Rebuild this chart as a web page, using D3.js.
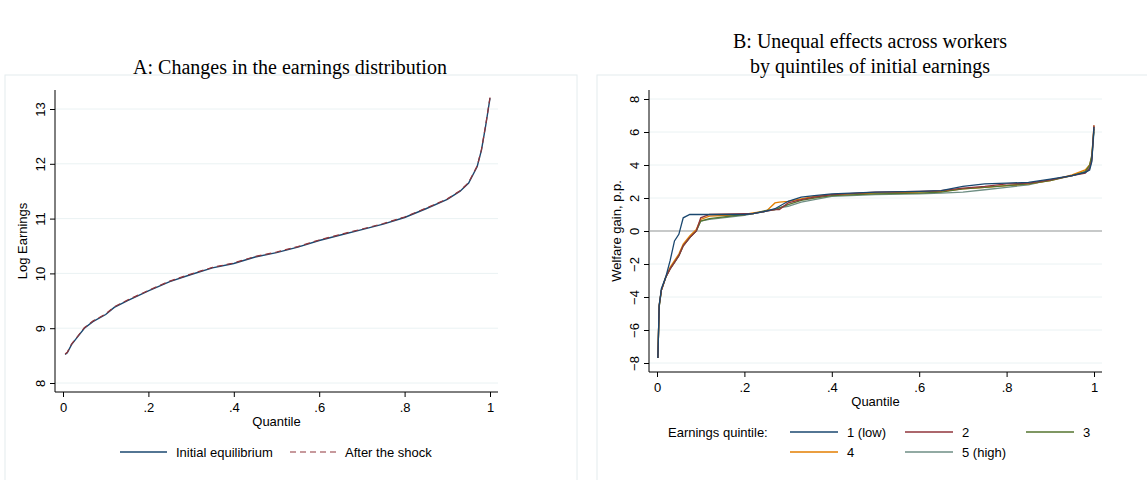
<!DOCTYPE html><html><head><meta charset="utf-8"><script src="https://cdn.jsdelivr.net/npm/d3@7"></script>
<style>body{margin:0;background:#fff}text{font-family:Arial,"Liberation Sans",sans-serif}</style></head><body>
<svg id="c" width="1147" height="480"></svg>
<script>
const qA=[0.005,0.01,0.02,0.03,0.05,0.07,0.1,0.12,0.15,0.2,0.25,0.3,0.35,0.4,0.45,0.5,0.55,0.6,0.65,0.7,0.75,0.8,0.85,0.9,0.93,0.95,0.97,0.98,0.99,0.995,1.0];
const initial=[8.52,8.55,8.7,8.8,9.0,9.12,9.25,9.38,9.5,9.68,9.85,9.98,10.1,10.18,10.3,10.38,10.48,10.6,10.7,10.8,10.9,11.02,11.18,11.35,11.5,11.65,11.95,12.25,12.7,12.95,13.2];
const after=initial.map(v=>v+0.01);
const qB=[0.002,0.005,0.01,0.02,0.03,0.04,0.05,0.06,0.075,0.09,0.1,0.12,0.2,0.22,0.25,0.27,0.28,0.3,0.33,0.36,0.4,0.5,0.6,0.65,0.7,0.75,0.8,0.85,0.9,0.95,0.98,0.99,0.995,1.0];
const s1=[-7.7,-4.5,-3.5,-2.8,-1.8,-0.6,-0.2,0.8,1.0,1.0,1.0,1.0,1.0,1.05,1.2,1.35,1.5,1.8,2.05,2.15,2.25,2.35,2.4,2.45,2.7,2.85,2.9,2.95,3.15,3.35,3.55,3.7,4.2,6.3];
const s2=[-7.7,-4.5,-3.6,-2.8,-2.3,-1.9,-1.5,-0.9,-0.4,0.0,0.8,1.0,1.05,1.05,1.2,1.3,1.3,1.7,1.9,2.05,2.2,2.35,2.4,2.45,2.6,2.7,2.85,2.9,3.1,3.35,3.5,3.8,4.3,6.4];
const s3=[-7.7,-4.6,-3.6,-2.8,-2.3,-1.9,-1.5,-0.9,-0.4,0.0,0.6,0.75,1.0,1.05,1.25,1.3,1.4,1.6,1.85,2.0,2.15,2.25,2.3,2.35,2.55,2.65,2.75,2.85,3.05,3.35,3.6,4.0,4.6,6.2];
const s4=[-7.7,-4.5,-3.6,-2.8,-2.2,-1.8,-1.4,-0.8,-0.3,0.1,0.7,0.9,1.0,1.1,1.2,1.7,1.75,1.8,1.95,2.1,2.2,2.3,2.35,2.4,2.55,2.65,2.75,2.85,3.05,3.4,3.7,4.0,4.5,6.4];
const s5=[-7.7,-4.6,-3.6,-2.8,-2.3,-1.9,-1.5,-0.9,-0.4,0.0,0.6,0.7,0.95,1.05,1.2,1.3,1.4,1.5,1.75,1.9,2.1,2.2,2.25,2.3,2.35,2.5,2.65,2.8,3.1,3.35,3.6,3.9,4.4,6.0];
const seriesB=[s1,s2,s3,s4,s5];
const namesB=["1 (low)","2","3","4","5 (high)"];
const colorsB=["#1a476f","#90353b","#55752f","#e37e00","#6e8e84"];
const xticks=[0,0.2,0.4,0.6,0.8,1];
const xlab=["0",".2",".4",".6",".8","1"];
const yticksA=[8,9,10,11,12,13];
const yticksB=[-8,-6,-4,-2,0,2,4,6,8];

const svg=d3.select("#c");
function panel(o){
  svg.append("rect").attr("x",o.bx).attr("y",75).attr("width",o.bw).attr("height",410).attr("fill","#fff").attr("stroke","#e4ecee");
  const x=d3.scaleLinear().domain([0,1]).range([o.x0,o.x1]);
  const y=d3.scaleLinear().domain(o.yd).range(o.yr);
  const g=svg.append("g");
  o.yt.forEach(t=>g.append("line").attr("x1",o.ax).attr("x2",o.right).attr("y1",y(t)).attr("y2",y(t)).attr("stroke","#eaf2f3"));
  g.append("g").attr("transform",`translate(0,${o.axy})`).call(d3.axisBottom(x).tickValues(xticks).tickFormat((d,i)=>xlab[i]).tickSize(5)).call(a=>{a.select(".domain").attr("d",`M${o.ax},0H${o.right}`);a.selectAll("text").style("font-size","13px").attr("dy","0.9em");});
  const ya=g.append("g").attr("transform",`translate(${o.ax},0)`).call(d3.axisLeft(y).tickValues(o.yt).tickFormat(d3.format("d")).tickSize(5)).call(a=>{a.select(".domain").attr("d",`M0,${o.top}V${o.axy}`);});
  ya.selectAll(".tick text").style("font-size","13px").attr("transform","rotate(-90)").attr("x",0).attr("y",-10).attr("dy",0).attr("text-anchor","middle");
  svg.append("text").attr("x",(o.ax+o.right)/2).attr("y",o.axy+34).attr("text-anchor","middle").style("font-size","13px").text("Quantile");
  svg.append("text").attr("transform",`translate(${o.ax-28},${(o.top+o.axy)/2}) rotate(-90)`).attr("text-anchor","middle").style("font-size","13px").text(o.ylab);
  return {x,y};
}
const A=panel({bx:5,bw:572,x0:63,x1:490,ax:55,right:498,top:90,axy:392,yd:[8,13],yr:[383,109],yt:yticksA,ylab:"Log Earnings"});
const lineA=d3.line().x((d,i)=>A.x(qA[i])).y(d=>A.y(d));
svg.append("path").attr("d",lineA(initial)).attr("fill","none").attr("stroke","#1a476f").attr("stroke-width",1.4);
svg.append("path").attr("d",lineA(after)).attr("fill","none").attr("stroke","#90353b").attr("stroke-width",1.2).attr("stroke-dasharray","6,4");
const B=panel({bx:597,bw:560,x0:657,x1:1094,ax:649,right:1102,top:90,axy:372,yd:[-8,8],yr:[363,99],yt:yticksB,ylab:"Welfare gain, p.p."});
svg.append("line").attr("x1",649).attr("x2",1102).attr("y1",B.y(0)).attr("y2",B.y(0)).attr("stroke","#999");
const lineB=d3.line().x((d,i)=>B.x(qB[i])).y(d=>B.y(d));
[4,3,2,1,0].forEach(k=>svg.append("path").attr("d",lineB(seriesB[k])).attr("fill","none").attr("stroke",colorsB[k]).attr("stroke-width",1.3));

const serif="'Liberation Serif','DejaVu Serif',serif";
svg.append("text").attr("x",290).attr("y",74).attr("text-anchor","middle").style("font-family",serif).style("font-size","20px").text("A: Changes in the earnings distribution");
svg.append("text").attr("x",870).attr("y",48).attr("text-anchor","middle").style("font-family",serif).style("font-size","20px").text("B: Unequal effects across workers");
svg.append("text").attr("x",870).attr("y",73).attr("text-anchor","middle").style("font-family",serif).style("font-size","20px").text("by quintiles of initial earnings");

svg.append("line").attr("x1",120).attr("x2",167).attr("y1",452).attr("y2",452).attr("stroke","#1a476f").attr("stroke-width",1.4);
svg.append("text").attr("x",176).attr("y",457).style("font-size","13px").text("Initial equilibrium");
svg.append("line").attr("x1",290).attr("x2",337).attr("y1",452).attr("y2",452).attr("stroke","#90353b").attr("stroke-width",1.2).attr("stroke-dasharray","6,4");
svg.append("text").attr("x",345).attr("y",457).style("font-size","13px").text("After the shock");
svg.append("text").attr("x",668).attr("y",437).style("font-size","13px").text("Earnings quintile:");
const lx=[790,905,1026,790,905], ly=[432,432,432,452,452];
namesB.forEach((n,i)=>{
  svg.append("line").attr("x1",lx[i]).attr("x2",lx[i]+48).attr("y1",ly[i]).attr("y2",ly[i]).attr("stroke",colorsB[i]).attr("stroke-width",1.4);
  svg.append("text").attr("x",lx[i]+57).attr("y",ly[i]+5).style("font-size","13px").text(n);
});
</script></body></html>
